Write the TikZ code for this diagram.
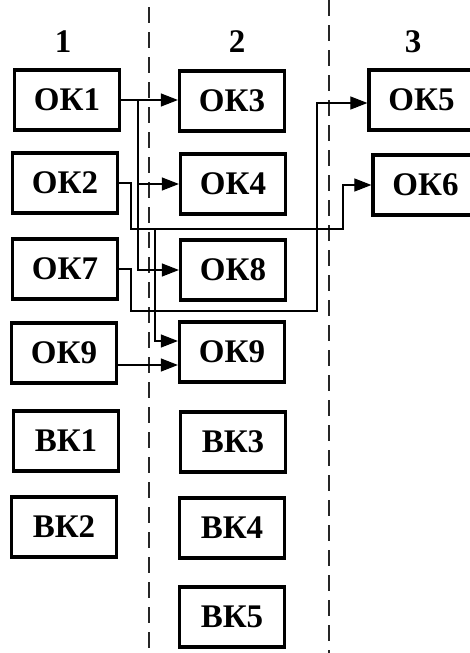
\documentclass[tikz,border=0pt]{standalone}
\usepackage{fontspec}
\setmainfont{Liberation Serif}
\usetikzlibrary{arrows.meta}
\begin{document}
\begin{tikzpicture}[x=1pt,y=-1pt,
  block/.style={draw, line width=3.2pt, minimum width=105pt, minimum height=60pt,
    inner sep=0pt, font=\fontsize{33}{33}\selectfont\bfseries},
  colnum/.style={font=\fontsize{33}{33}\selectfont\bfseries},
  link/.style={line width=1.1pt},
  feed/.style={link, -{Triangle[length=17pt,width=13pt]}},
  divider/.style={line width=1.4pt, dash pattern=on 16pt off 9pt, black!85}]
\useasboundingbox (0,0) rectangle (469,653);

% column dividers
\draw[divider] (149,7) -- (149,653);
\draw[divider] (329,0) -- (329,653);

% column numbers
\node[colnum] (n1) at (63,42) {1};
\node[colnum] (n2) at (237,42) {2};
\node[colnum] (n3) at (413,42) {3};

% column 1
\node[block] (a1) at (67,100) {ОК1};
\node[block] (a2) at (65,183) {ОК2};
\node[block] (a7) at (65,269) {ОК7};
\node[block] (a9) at (64,353) {ОК9};
\node[block] (v1) at (66,441) {ВК1};
\node[block] (v2) at (64,527) {ВК2};

% column 2
\node[block] (b3) at (232,101) {ОК3};
\node[block] (b4) at (233,184) {ОК4};
\node[block] (b8) at (233,270) {ОК8};
\node[block] (b9) at (232,352) {ОК9};
\node[block] (w3) at (233,442) {ВК3};
\node[block] (w4) at (232,528) {ВК4};
\node[block] (w5) at (232,617) {ВК5};

% column 3
\node[block] (c5) at (421.5,100) {ОК5};
\node[block] (c6) at (425.5,185) {ОК6};

% OK1 -> OK3, OK4, OK8
\coordinate (t1) at (138,100);
\draw[feed] (a1.east) -- (a1.east -| b3.west);
\draw[feed] (t1) |- (b4.west);
\draw[feed] (t1) |- (b8.west);

% OK2 -> OK6 and OK9
\coordinate (r2) at (131,229);
\coordinate (u6) at (343,229);
\coordinate (d9) at (155,229);
\coordinate (i9) at (232,341);
\draw[feed] (a2.east) -| (r2) -- (u6) |- (c6.west);
\draw[feed] (d9) |- (i9 -| b9.west);

% OK7 -> OK5
\coordinate (r7) at (131,311);
\coordinate (u5) at (317,311);
\coordinate (i5) at (369,103);
\draw[feed] (a7.east) -| (r7) -- (u5) |- (i5 -| c5.west);

% OK9 -> OK9
\coordinate (o9) at (117,365);
\draw[feed] (o9) -- (o9 -| b9.west);
\end{tikzpicture}
\end{document}
